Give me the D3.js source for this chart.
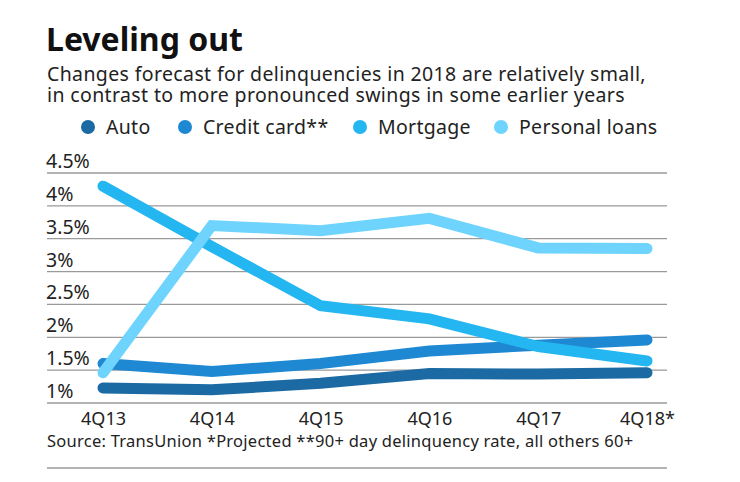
<html>
<head>
  <meta charset="utf-8" />
  <script src="https://d3js.org/d3.v7.min.js"></script>
</head>
<body style="margin: 0; background: white">
<script>

// data
var quarters = ['4Q13', '4Q14', '4Q15', '4Q16', '4Q17', '4Q18*']
var autoRates = [1.23, 1.20, 1.30, 1.45, 1.44, 1.46]
var creditCardRates = [1.60, 1.48, 1.60, 1.79, 1.88, 1.96]
var mortgageRates = [4.30, 3.38, 2.48, 2.28, 1.86, 1.64]
var personalLoanRates = [1.46, 3.70, 3.62, 3.81, 3.36, 3.35]
var yTicks = [1, 1.5, 2, 2.5, 3, 3.5, 4, 4.5]

var seriesNames = ['Auto', 'Credit card**', 'Mortgage', 'Personal loans']
var seriesColors = ['#1b6aa3', '#1e88d3', '#23b6f0', '#6fd4fd']
var series = [autoRates, creditCardRates, mortgageRates, personalLoanRates]

var font = '"Noto Sans", sans-serif'
var width = 740, height = 482

var svg = d3.select("body").append("svg")
            .attr("width", width)
            .attr("height", height)
            .style("font-family", font)

svg.append("text")
   .attr("x", 46).attr("y", 51)
   .attr("font-size", 32).attr("font-weight", "bold")
   .attr("fill", "#111")
   .text("Leveling out")

var subLines = ['Changes forecast for delinquencies in 2018 are relatively small,',
                'in contrast to more pronounced swings in some earlier years']
svg.selectAll(".sub").data(subLines).enter().append("text")
   .attr("class", "sub")
   .attr("x", 47)
   .attr("y", function(d, i) { return 81 + i * 21 })
   .attr("font-size", 19.5)
   .attr("letter-spacing", 0.37)
   .attr("fill", "#222")
   .text(function(d) { return d })

// legend
var legendX = [88, 185, 360, 501]
var legend = svg.selectAll(".leg").data(seriesNames).enter().append("g")
   .attr("class", "leg")
   .attr("transform", function(d, i) { return "translate(" + legendX[i] + ",127)" })
legend.append("circle").attr("r", 7).attr("fill", function(d, i) { return seriesColors[i] })
legend.append("text")
   .attr("x", 18).attr("y", 7)
   .attr("font-size", 19.5).attr("letter-spacing", 0.3).attr("fill", "#222")
   .text(function(d) { return d })

// scales
var x = d3.scalePoint().domain(quarters).range([103, 647])
var y = d3.scaleLinear().domain([1, 4.5]).range([403, 173])

// gridlines
svg.append("g").selectAll("line").data(yTicks).enter().append("line")
   .attr("x1", 47).attr("x2", 667)
   .attr("y1", function(d) { return y(d) }).attr("y2", function(d) { return y(d) })
   .attr("stroke", "#9a9a9a").attr("stroke-width", 1.3)

svg.append("g").selectAll("text").data(yTicks).enter().append("text")
   .attr("x", 46)
   .attr("y", function(d) { return y(d) - 5 })
   .attr("font-size", 19.5).attr("fill", "#222")
   .text(function(d) { return d + '%' })

// x axis labels
var xAxis = d3.axisBottom(x).tickSize(0).tickPadding(0)
var gx = svg.append("g").attr("transform", "translate(0,411)").call(xAxis)
gx.select(".domain").remove()
gx.selectAll("text")
  .attr("font-family", font).attr("font-size", 18).attr("fill", "#222")
  .attr("dy", "0.76em")

// lines
var line = d3.line()
  .x(function(d, i) { return x(quarters[i]) })
  .y(function(d) { return y(d) })

svg.append("g").selectAll("path").data(series).enter().append("path")
   .attr("d", line)
   .attr("fill", "none")
   .attr("stroke", function(d, i) { return seriesColors[i] })
   .attr("stroke-width", 11)
   .attr("stroke-linecap", "round")
   .attr("stroke-linejoin", "miter")

svg.append("text")
   .attr("x", 47).attr("y", 447)
   .attr("font-size", 16.5).attr("letter-spacing", 0.26).attr("fill", "#222")
   .text("Source: TransUnion *Projected **90+ day delinquency rate, all others 60+")

svg.append("line")
   .attr("x1", 47).attr("x2", 667).attr("y1", 468).attr("y2", 468)
   .attr("stroke", "#9a9a9a").attr("stroke-width", 1.3)

</script>
</body>
</html>
